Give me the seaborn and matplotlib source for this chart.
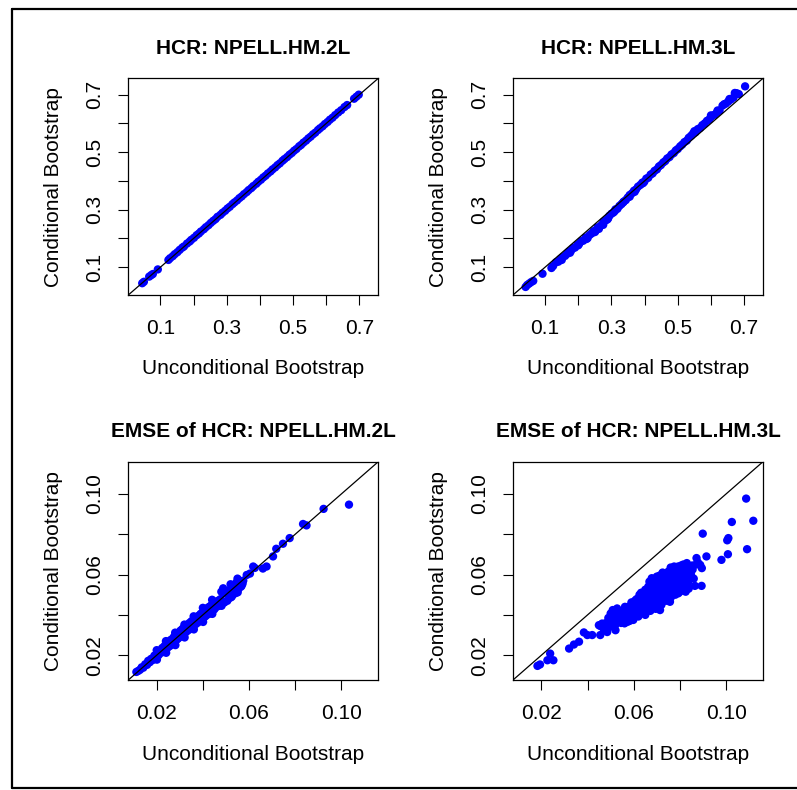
import numpy as np
import pandas as pd
import matplotlib
matplotlib.use("Agg")
import matplotlib.pyplot as plt
from matplotlib.lines import Line2D
import seaborn as sns

# ---------------- data ----------------
titles = ["HCR: NPELL.HM.2L", "HCR: NPELL.HM.3L",
          "EMSE of HCR: NPELL.HM.2L", "EMSE of HCR: NPELL.HM.3L"]
xlabel = "Unconditional Bootstrap"
ylabel = "Conditional Bootstrap"

hcr_ticks = [0.1, 0.2, 0.3, 0.4, 0.5, 0.6, 0.7]
hcr_ticklabels = ["0.1", "", "0.3", "", "0.5", "", "0.7"]
emse_ticks = [0.02, 0.04, 0.06, 0.08, 0.10]
emse_ticklabels = ["0.02", "", "0.06", "", "0.10"]

hcr2_u = [0.045, 0.050, 0.066, 0.072, 0.077, 0.092, 0.124, 0.129, 0.137, 0.143, 0.151, 0.158,
          0.166, 0.171, 0.180, 0.188, 0.193, 0.201, 0.209, 0.216, 0.222, 0.231, 0.237, 0.245,
          0.252, 0.259, 0.266, 0.272, 0.281, 0.287, 0.295, 0.302, 0.309, 0.317, 0.323, 0.331,
          0.338, 0.345, 0.352, 0.360, 0.366, 0.374, 0.380, 0.389, 0.395, 0.403, 0.410, 0.417,
          0.424, 0.432, 0.438, 0.446, 0.453, 0.460, 0.468, 0.474, 0.482, 0.489, 0.496, 0.503,
          0.510, 0.518, 0.524, 0.531, 0.539, 0.546, 0.553, 0.560, 0.567, 0.575, 0.581, 0.589,
          0.596, 0.604, 0.611, 0.619, 0.627, 0.636, 0.645, 0.655, 0.663, 0.684, 0.691, 0.698]
hcr2_c = [0.044, 0.049, 0.067, 0.072, 0.076, 0.092, 0.125, 0.131, 0.138, 0.145, 0.152, 0.160,
          0.168, 0.172, 0.182, 0.189, 0.195, 0.202, 0.211, 0.217, 0.224, 0.232, 0.239, 0.246,
          0.254, 0.261, 0.267, 0.275, 0.282, 0.289, 0.296, 0.304, 0.310, 0.319, 0.325, 0.332,
          0.340, 0.346, 0.354, 0.361, 0.368, 0.375, 0.382, 0.390, 0.397, 0.404, 0.412, 0.418,
          0.426, 0.433, 0.440, 0.447, 0.455, 0.461, 0.470, 0.476, 0.483, 0.491, 0.497, 0.505,
          0.511, 0.520, 0.525, 0.533, 0.540, 0.548, 0.554, 0.562, 0.568, 0.577, 0.583, 0.590,
          0.598, 0.605, 0.613, 0.620, 0.629, 0.638, 0.646, 0.657, 0.664, 0.686, 0.693, 0.700]

hcr3_u = [0.041, 0.046, 0.052, 0.058, 0.064, 0.092, 0.119, 0.124, 0.133, 0.140, 0.146, 0.152,
          0.160, 0.166, 0.172, 0.178, 0.184, 0.190, 0.197, 0.203, 0.209, 0.215, 0.222, 0.228,
          0.234, 0.240, 0.246, 0.252, 0.258, 0.264, 0.270, 0.276, 0.282, 0.288, 0.294, 0.300,
          0.306, 0.312, 0.318, 0.324, 0.330, 0.337, 0.343, 0.349, 0.355, 0.362, 0.368, 0.374,
          0.380, 0.387, 0.393, 0.399, 0.405, 0.411, 0.418, 0.424, 0.430, 0.437, 0.443, 0.449,
          0.456, 0.462, 0.468, 0.475, 0.481, 0.488, 0.494, 0.500, 0.507, 0.513, 0.520, 0.527,
          0.533, 0.540, 0.546, 0.553, 0.560, 0.567, 0.574, 0.581, 0.588, 0.595, 0.602, 0.610,
          0.618, 0.626, 0.645, 0.652, 0.660, 0.675, 0.684, 0.703,
          0.150, 0.175, 0.200, 0.225, 0.250, 0.262, 0.275, 0.290, 0.310, 0.335, 0.355, 0.370,
          0.395, 0.550, 0.600, 0.620, 0.635, 0.640, 0.656, 0.668, 0.672, 0.678]
hcr3_c = [0.031, 0.038, 0.043, 0.048, 0.052, 0.077, 0.097, 0.104, 0.117, 0.119, 0.128, 0.134,
          0.139, 0.146, 0.154, 0.157, 0.166, 0.168, 0.177, 0.182, 0.190, 0.192, 0.203, 0.201,
          0.212, 0.217, 0.225, 0.226, 0.238, 0.240, 0.247, 0.258, 0.262, 0.266, 0.279, 0.286,
          0.290, 0.301, 0.303, 0.313, 0.319, 0.328, 0.333, 0.342, 0.351, 0.357, 0.366, 0.370,
          0.380, 0.386, 0.394, 0.397, 0.408, 0.411, 0.422, 0.426, 0.435, 0.440, 0.450, 0.455,
          0.464, 0.469, 0.478, 0.483, 0.492, 0.497, 0.506, 0.511, 0.520, 0.526, 0.535, 0.540,
          0.550, 0.557, 0.565, 0.569, 0.580, 0.584, 0.594, 0.600, 0.609, 0.614, 0.624, 0.630,
          0.638, 0.645, 0.669, 0.676, 0.683, 0.703, 0.702, 0.729,
          0.125, 0.150, 0.176, 0.198, 0.222, 0.233, 0.247, 0.270, 0.295, 0.325, 0.345, 0.362,
          0.392, 0.573, 0.628, 0.645, 0.662, 0.667, 0.685, 0.690, 0.706, 0.705]

emse2_u = [0.0112, 0.0120, 0.0128, 0.0135, 0.0142, 0.0150, 0.0158, 0.0163, 0.0170, 0.0176,
           0.0183, 0.0190, 0.0196, 0.0202, 0.0208, 0.0213, 0.0219, 0.0224, 0.0230, 0.0234,
           0.0239, 0.0243, 0.0248, 0.0252, 0.0256, 0.0260, 0.0263, 0.0267, 0.0270, 0.0274,
           0.0278, 0.0281, 0.0285, 0.0288, 0.0292, 0.0296, 0.0300, 0.0303, 0.0307, 0.0311,
           0.0315, 0.0318, 0.0322, 0.0326, 0.0330, 0.0334, 0.0338, 0.0342, 0.0346, 0.0350,
           0.0354, 0.0358, 0.0362, 0.0366, 0.0370, 0.0374, 0.0378, 0.0382, 0.0386, 0.0390,
           0.0394, 0.0398, 0.0402, 0.0406, 0.0410, 0.0414, 0.0418, 0.0422, 0.0426, 0.0430,
           0.0434, 0.0438, 0.0442, 0.0446, 0.0450, 0.0455, 0.0460, 0.0465, 0.0470, 0.0476,
           0.0482, 0.0488, 0.0494, 0.0500, 0.0506, 0.0512, 0.0518, 0.0524, 0.0530, 0.0536,
           0.0542, 0.0548, 0.0555, 0.0561, 0.0568, 0.0575, 0.0590, 0.0604, 0.0618, 0.0625,
           0.0660, 0.0676, 0.0704, 0.0718, 0.0747, 0.0776, 0.0834, 0.0849, 0.0923, 0.1033,
           0.0200, 0.0201, 0.0240, 0.0241, 0.0280, 0.0281, 0.0320, 0.0321, 0.0360, 0.0361,
           0.0400, 0.0401, 0.0440, 0.0441, 0.0480, 0.0481, 0.0520, 0.0521, 0.0550, 0.0551,
           0.0488, 0.0517, 0.0560, 0.0545, 0.0525, 0.0565, 0.0572, 0.0335, 0.0395, 0.0445]
emse2_c = [0.0117, 0.0122, 0.0128, 0.0140, 0.0138, 0.0155, 0.0152, 0.0172, 0.0165, 0.0182,
           0.0176, 0.0198, 0.0188, 0.0210, 0.0200, 0.0222, 0.0212, 0.0236, 0.0218, 0.0246,
           0.0230, 0.0255, 0.0238, 0.0262, 0.0245, 0.0275, 0.0252, 0.0280, 0.0260, 0.0290,
           0.0266, 0.0300, 0.0275, 0.0305, 0.0282, 0.0312, 0.0290, 0.0322, 0.0296, 0.0330,
           0.0302, 0.0338, 0.0310, 0.0345, 0.0318, 0.0352, 0.0325, 0.0360, 0.0332, 0.0368,
           0.0340, 0.0373, 0.0348, 0.0382, 0.0355, 0.0390, 0.0362, 0.0396, 0.0370, 0.0405,
           0.0378, 0.0412, 0.0384, 0.0420, 0.0392, 0.0428, 0.0400, 0.0436, 0.0405, 0.0442,
           0.0412, 0.0450, 0.0420, 0.0457, 0.0428, 0.0462, 0.0440, 0.0470, 0.0445, 0.0478,
           0.0455, 0.0510, 0.0462, 0.0505, 0.0470, 0.0520, 0.0485, 0.0530, 0.0500, 0.0540,
           0.0508, 0.0555, 0.0530, 0.0563, 0.0545, 0.0570, 0.0598, 0.0605, 0.0640, 0.0633,
           0.0630, 0.0640, 0.0690, 0.0728, 0.0753, 0.0781, 0.0851, 0.0844, 0.0926, 0.0947,
           0.0225, 0.0178, 0.0270, 0.0212, 0.0312, 0.0250, 0.0352, 0.0288, 0.0393, 0.0328,
           0.0435, 0.0365, 0.0475, 0.0405, 0.0515, 0.0445, 0.0552, 0.0488, 0.0580, 0.0512,
           0.0532, 0.0523, 0.0565, 0.0560, 0.0490, 0.0540, 0.0555, 0.0340, 0.0395, 0.0440]

emse3_u = [0.0183, 0.0194, 0.0238, 0.0226, 0.0252, 0.0320, 0.0341, 0.0363, 0.0384, 0.0399,
           0.0420, 0.0449, 0.0463, 0.0455, 0.0477, 0.0485, 0.0521, 0.0500, 0.0509, 0.0528,
           0.0543, 0.0560, 0.0572, 0.0555, 0.0562, 0.0578, 0.0585, 0.0590, 0.0598, 0.0603,
           0.0608, 0.0612, 0.0620, 0.0624, 0.0628, 0.0633, 0.0640, 0.0645, 0.0648, 0.0652,
           0.0658, 0.0662, 0.0666, 0.0670, 0.0678, 0.0675, 0.0680, 0.0684, 0.0688, 0.0693,
           0.0697, 0.0700, 0.0705, 0.0709, 0.0714, 0.0716, 0.0720, 0.0724, 0.0728, 0.0732,
           0.0736, 0.0740, 0.0745, 0.0749, 0.0753, 0.0757, 0.0762, 0.0765, 0.0768, 0.0772,
           0.0776, 0.0780, 0.0786, 0.0790, 0.0793, 0.0795, 0.0800, 0.0805, 0.0810, 0.0815,
           0.0820, 0.0826, 0.0830, 0.0835, 0.0840, 0.0845, 0.0853, 0.0860, 0.0865, 0.0894,
           0.0872, 0.0915, 0.0888, 0.0895, 0.0899, 0.0980, 0.1008, 0.1005, 0.1010, 0.1025,
           0.1087, 0.1118, 0.1091,
           0.0595, 0.0615, 0.0635, 0.0655, 0.0660, 0.0672, 0.0690, 0.0695, 0.0702, 0.0712,
           0.0718, 0.0722, 0.0730, 0.0738, 0.0742, 0.0747, 0.0755, 0.0759, 0.0763, 0.0770,
           0.0774, 0.0778, 0.0783, 0.0788, 0.0798, 0.0802, 0.0808, 0.0812, 0.0818, 0.0823,
           0.0838, 0.0848, 0.0855, 0.0870, 0.0878, 0.0640, 0.0625, 0.0610, 0.0650, 0.0685,
           0.0705, 0.0725, 0.0733, 0.0750, 0.0765, 0.0792,
           0.0455, 0.0470, 0.0480, 0.0490, 0.0495, 0.0505, 0.0515, 0.0520, 0.0530, 0.0535,
           0.0545, 0.0550, 0.0558, 0.0565, 0.0570, 0.0575, 0.0582, 0.0588, 0.0592, 0.0600,
           0.0605, 0.0615, 0.0622, 0.0630, 0.0632, 0.0642, 0.0650, 0.0663, 0.0668, 0.0700,
           0.0712, 0.0725, 0.0760, 0.0775, 0.0815, 0.0825, 0.0838, 0.0800, 0.0780, 0.0760,
           0.0740, 0.0720, 0.0695, 0.0672, 0.0650]
emse3_c = [0.0147, 0.0154, 0.0208, 0.0175, 0.0175, 0.0233, 0.0253, 0.0267, 0.0313, 0.0300,
           0.0300, 0.0349, 0.0357, 0.0300, 0.0325, 0.0315, 0.0324, 0.0407, 0.0424, 0.0432,
           0.0398, 0.0358, 0.0365, 0.0415, 0.0440, 0.0395, 0.0425, 0.0462, 0.0375, 0.0410,
           0.0445, 0.0478, 0.0392, 0.0428, 0.0460, 0.0495, 0.0410, 0.0440, 0.0472, 0.0508,
           0.0420, 0.0455, 0.0488, 0.0522, 0.0582, 0.0435, 0.0468, 0.0500, 0.0535, 0.0560,
           0.0445, 0.0478, 0.0512, 0.0546, 0.0424, 0.0578, 0.0462, 0.0495, 0.0528, 0.0562,
           0.0600, 0.0478, 0.0510, 0.0545, 0.0580, 0.0465, 0.0618, 0.0498, 0.0530, 0.0565,
           0.0598, 0.0632, 0.0515, 0.0548, 0.0507, 0.0585, 0.0615, 0.0645, 0.0535, 0.0570,
           0.0602, 0.0630, 0.0657, 0.0560, 0.0592, 0.0620, 0.0645, 0.0580, 0.0544, 0.0544,
           0.0682, 0.0690, 0.0648, 0.0632, 0.0803, 0.0673, 0.0701, 0.0770, 0.0781, 0.0861,
           0.0977, 0.0867, 0.0726,
           0.0440, 0.0425, 0.0455, 0.0470, 0.0500, 0.0455, 0.0485, 0.0520, 0.0495, 0.0530,
           0.0480, 0.0512, 0.0545, 0.0495, 0.0560, 0.0528, 0.0500, 0.0560, 0.0595, 0.0515,
           0.0548, 0.0580, 0.0610, 0.0565, 0.0550, 0.0598, 0.0630, 0.0555, 0.0585, 0.0615,
           0.0640, 0.0600, 0.0625, 0.0650, 0.0660, 0.0475, 0.0500, 0.0395, 0.0430, 0.0440,
           0.0455, 0.0470, 0.0585, 0.0615, 0.0625, 0.0640,
           0.0345, 0.0330, 0.0360, 0.0385, 0.0340, 0.0370, 0.0395, 0.0350, 0.0375, 0.0410,
           0.0360, 0.0385, 0.0425, 0.0375, 0.0400, 0.0440, 0.0370, 0.0405, 0.0450, 0.0420,
           0.0470, 0.0450, 0.0485, 0.0420, 0.0510, 0.0505, 0.0525, 0.0540, 0.0565, 0.0590,
           0.0595, 0.0610, 0.0635, 0.0640, 0.0650, 0.0515, 0.0530, 0.0515, 0.0500, 0.0485,
           0.0470, 0.0450, 0.0430, 0.0420, 0.0400]

# ---------------- figure ----------------
sns.set_theme(style="white")
plt.rcParams["font.family"] = ["Liberation Sans", "DejaVu Sans"]

W, H = 797, 790
fig = plt.figure(figsize=(W / 100, H / 100), dpi=100)
fig.patch.set_facecolor("white")

FS = 15
BLUE = "#0000FF"


def add_ax(l, t, r, b):
    return fig.add_axes([l / W, 1 - b / H, (r - l) / W, (b - t) / H])


panels = [
    (add_ax(128.3, 78.3, 378.3, 295.0), hcr2_u, hcr2_c, (0.003, 0.757), hcr_ticks, hcr_ticklabels),
    (add_ax(513.0, 78.3, 763.0, 295.0), hcr3_u, hcr3_c, (0.003, 0.757), hcr_ticks, hcr_ticklabels),
    (add_ax(128.3, 461.7, 378.3, 680.0), emse2_u, emse2_c, (0.0077, 0.1160), emse_ticks, emse_ticklabels),
    (add_ax(513.0, 461.7, 763.0, 680.0), emse3_u, emse3_c, (0.0077, 0.1160), emse_ticks, emse_ticklabels),
]

for (ax, u, c, lim, ticks, tlabels), title in zip(panels, titles):
    df = pd.DataFrame({"u": u, "c": c})
    sns.scatterplot(data=df, x="u", y="c", ax=ax, color=BLUE, s=36,
                    linewidth=0, edgecolor="none", zorder=2, legend=False)
    ax.axline((lim[0], lim[0]), (lim[1], lim[1]), color="black", lw=0.9, zorder=3)
    ax.set_xlim(*lim)
    ax.set_ylim(*lim)
    ax.set_xticks(ticks)
    ax.set_xticklabels(tlabels)
    ax.set_yticks(ticks)
    ax.set_yticklabels(tlabels)
    ax.tick_params(direction="out", length=7.2, width=0.8, color="black",
                   labelsize=FS, labelcolor="black", pad=10,
                   bottom=True, left=True, top=False, right=False)
    for lab in ax.get_yticklabels():
        lab.set_rotation(90)
        lab.set_va("center")
        lab.set_ha("right")
    for sp in ax.spines.values():
        sp.set_visible(True)
        sp.set_color("black")
        sp.set_linewidth(0.9)
    ax.set_facecolor("white")
    ax.grid(False)

    bb = ax.get_position()
    hpx = bb.height * H
    wpx = bb.width * W
    ax.set_xlabel(xlabel, fontsize=FS, color="black")
    ax.xaxis.set_label_coords(0.5, -74 / hpx)
    ax.xaxis.label.set_va("center")
    ax.set_ylabel(ylabel, fontsize=FS, color="black")
    ax.yaxis.set_label_coords(-75 / wpx, 0.5)
    ax.yaxis.label.set_va("center")
    ax.text(0.5, 1 + 30 / hpx, title, transform=ax.transAxes, ha="center",
            va="center", fontsize=FS, fontweight="bold", color="black")

# outer frame (left, top and bottom edges)
def fx(x):
    return x / W

def fy(y):
    return 1 - y / H

frame_kw = dict(color="black", lw=1.6, transform=fig.transFigure)
fig.add_artist(Line2D([fx(12), fx(12)], [fy(9), fy(788)], **frame_kw))
fig.add_artist(Line2D([fx(12), fx(797)], [fy(9), fy(9)], **frame_kw))
fig.add_artist(Line2D([fx(12), fx(797)], [fy(788), fy(788)], **frame_kw))

fig.savefig("out.png", dpi=100, facecolor="white")
